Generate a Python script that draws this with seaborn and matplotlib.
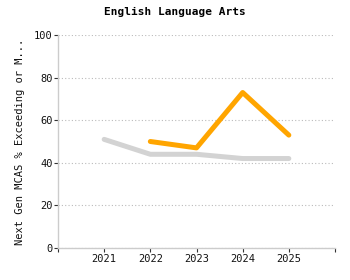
import matplotlib
matplotlib.use("Agg")
import matplotlib.pyplot as plt
import seaborn as sns
import pandas as pd
import numpy as np

years_state = [2021, 2022, 2023, 2024, 2025]
state_values = [51, 44, 44, 42, 42]
years_school = [2022, 2023, 2024, 2025]
school_values = [50, 47, 73, 53]
y_ticks = [0, 20, 40, 60, 80, 100]
x_labels = ["2021", "2022", "2023", "2024", "2025"]

sns.set_theme(style="white")
plt.rcParams['font.family'] = ['DejaVu Sans Mono', 'DejaVu Sans']

df_state = pd.DataFrame({"year": years_state, "value": state_values})
df_school = pd.DataFrame({"year": years_school, "value": school_values})

fig = plt.figure(figsize=(3.5, 2.8), dpi=100)
ax = fig.add_axes([58/350, 32/280, (335-58)/350, (248-35)/280])

sns.lineplot(data=df_state, x="year", y="value", ax=ax, color="#d3d3d3",
             linewidth=3.6, solid_capstyle="round", solid_joinstyle="round")
sns.lineplot(data=df_school, x="year", y="value", ax=ax, color="#ffa500",
             linewidth=3.6, solid_capstyle="round", solid_joinstyle="round")

ax.set_xlim(2020, 2026)
ax.set_ylim(0, 100)
ax.set_xticks([2020, 2021, 2022, 2023, 2024, 2025, 2026])
ax.set_xticklabels([""] + x_labels + [""], fontsize=7.5, color="#111111")
ax.set_yticks(y_ticks)
ax.set_yticklabels([str(v) for v in y_ticks], fontsize=7.5, color="#111111")
ax.yaxis.grid(True, linestyle=(0, (1, 2)), color="#bbbbbb", linewidth=0.8)
ax.xaxis.grid(False)
for s in ["top", "right"]:
    ax.spines[s].set_visible(False)
for s in ["left", "bottom"]:
    ax.spines[s].set_color("#cccccc")
    ax.spines[s].set_linewidth(1)
ax.tick_params(axis="both", which="both", length=3, width=0.8, color="#333333",
               pad=1, direction="out", left=True, bottom=True)
ax.set_xlabel("")
ax.set_ylabel("Next Gen MCAS % Exceeding or M...", fontsize=7.5, color="#111111", labelpad=6)
fig.suptitle("English Language Arts", fontsize=8, fontweight="bold", y=0.975, x=0.5, color="#000000")

fig.savefig("out.png", dpi=100)
